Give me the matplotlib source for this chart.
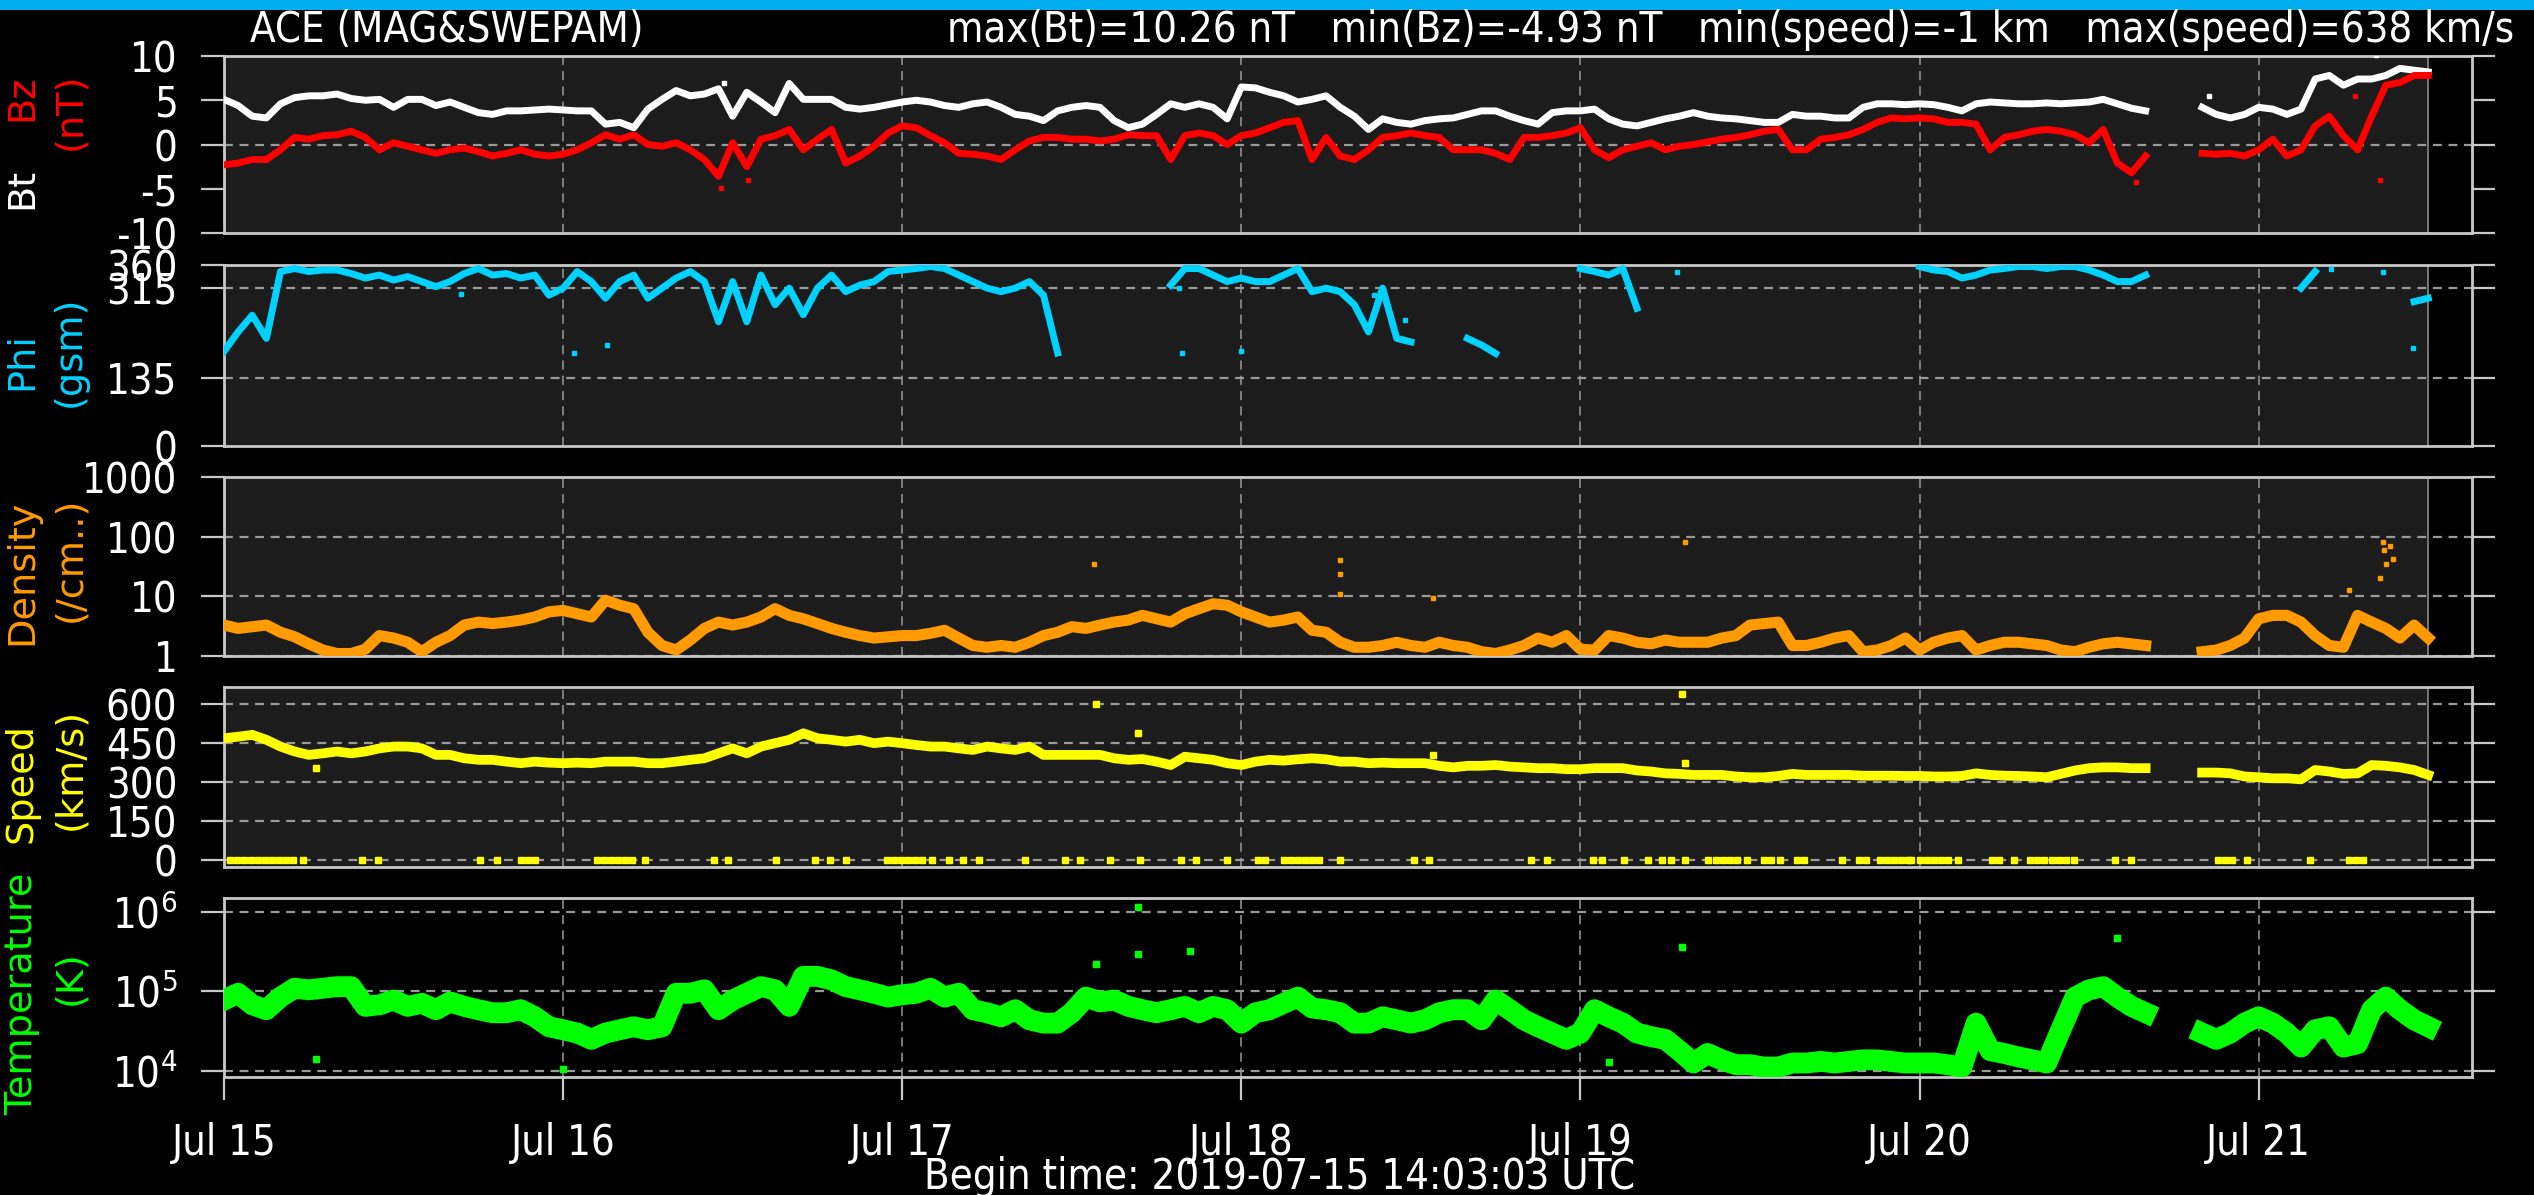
import numpy as np
import matplotlib
matplotlib.use("Agg")
import matplotlib.pyplot as plt
from matplotlib.patches import Rectangle

nan = np.nan

# ---------------- data (hourly readings, hour 0 = Jul 15 00:00) ----------------
bt = [5.1,4.4,3.2,3.0,4.6,5.3,5.5,5.5,5.7,5.2,
      5.0,5.1,4.2,5.1,5.1,4.4,4.8,4.2,3.6,3.4,
      3.8,3.8,3.9,4.0,3.9,3.8,3.8,2.3,2.5,1.9,
      4.0,5.1,6.1,5.5,5.7,6.3,3.2,5.9,4.8,3.6,
      6.9,5.1,5.1,5.1,4.2,4.0,4.2,4.5,4.8,5.0,
      4.8,4.4,4.2,4.6,4.8,4.2,3.4,3.2,2.7,3.8,
      4.2,4.4,4.2,2.7,1.9,2.3,3.4,4.6,4.2,4.6,
      4.2,2.9,6.5,6.4,5.9,5.5,4.8,5.1,5.5,4.2,
      3.2,1.7,2.9,2.5,2.3,2.7,2.9,3.0,3.4,3.8,
      3.8,3.2,2.7,2.3,3.6,3.8,3.8,4.0,2.9,2.3,
      2.1,2.5,2.9,3.2,3.6,3.2,3.0,2.9,2.7,2.5,
      2.5,3.4,3.2,3.2,3.0,3.0,4.2,4.6,4.6,4.5,
      4.6,4.5,4.2,3.8,4.6,4.8,4.7,4.6,4.6,4.7,
      4.6,4.7,4.8,5.1,4.6,4.1,3.8,nan,nan,nan,
      4.2,3.4,3.0,3.4,4.2,4.0,3.4,4.0,7.4,7.8,
      6.7,7.4,7.4,7.8,8.6,8.4,8.2]

bz = [-2.3,-2.1,-1.7,-1.7,-0.6,0.8,0.6,1.0,1.1,1.5,
      0.8,-0.6,0.2,-0.2,-0.6,-1.0,-0.6,-0.4,-0.8,-1.3,
      -1.0,-0.6,-1.1,-1.3,-1.1,-0.6,0.2,1.1,0.6,1.1,
      0.0,-0.2,0.2,-0.6,-1.7,-3.6,0.2,-2.5,0.6,1.0,
      1.7,-0.6,0.6,1.7,-2.1,-1.3,-0.2,1.3,2.1,1.9,
      1.0,0.2,-1.0,-1.1,-1.3,-1.7,-0.6,0.4,0.8,0.8,
      0.6,0.6,0.4,0.6,1.1,1.0,1.0,-1.7,1.0,1.3,
      1.0,0.0,1.0,1.3,1.9,2.5,2.7,-1.7,0.8,-1.3,
      -1.7,-0.6,0.8,1.0,1.3,1.0,0.8,-0.6,-0.6,-0.6,
      -1.0,-1.7,0.8,0.8,1.0,1.3,1.9,-0.6,-1.5,-0.6,
      -0.2,0.2,-0.6,-0.2,0.0,0.3,0.6,0.8,1.1,1.5,
      1.7,-0.6,-0.6,0.6,0.8,1.1,1.7,2.5,3.0,2.9,
      3.0,2.9,2.5,2.5,2.3,-0.6,0.8,1.1,1.5,1.7,
      1.5,1.1,0.2,1.7,-2.1,-3.2,-1.3,nan,nan,nan,
      -1.0,-1.1,-1.0,-1.3,-0.6,0.6,-1.3,-0.6,2.1,3.2,
      1.0,-0.6,3.2,6.7,7.0,7.8,7.8]

phi = [188,227,260,214,347,353,347,350,350,343,
       334,340,330,337,327,317,327,343,353,340,
       343,334,340,300,314,347,327,294,327,340,
       294,314,334,347,327,247,327,247,340,281,
       314,261,314,340,307,320,327,347,350,353,
       357,353,340,327,314,307,314,327,300,185,
       nan,nan,nan,nan,nan,nan,nan,320,353,353,
       340,327,334,327,327,340,353,307,314,307,
       281,227,314,214,207,nan,nan,nan,214,201,
       184,nan,nan,nan,nan,nan,353,347,340,353,
       274,nan,nan,nan,nan,nan,nan,nan,nan,nan,
       320,nan,nan,nan,nan,nan,nan,nan,nan,nan,
       357,350,347,334,340,350,353,357,357,353,
       357,357,350,340,327,327,340,nan,nan,nan,
       nan,nan,nan,nan,nan,nan,nan,314,347,nan,
       nan,nan,nan,nan,nan,287,294]

density = [3.3,2.9,3.1,3.3,2.5,2.1,1.6,1.26,1.1,1.1,
           1.3,2.2,2.0,1.7,1.18,1.7,2.2,3.3,3.7,3.5,
           3.7,4.0,4.5,5.5,5.8,5.1,4.5,8.6,7.1,6.2,
           2.5,1.5,1.26,1.85,2.9,3.7,3.3,3.7,4.5,6.2,
           4.8,4.2,3.5,2.9,2.5,2.2,2.0,2.1,2.2,2.2,
           2.4,2.7,2.0,1.5,1.4,1.5,1.4,1.7,2.2,2.5,
           3.1,2.9,3.3,3.7,4.0,4.8,4.2,3.7,5.1,6.2,
           7.5,7.1,5.5,4.5,3.7,4.0,4.5,2.7,2.5,1.7,
           1.4,1.4,1.5,1.7,1.5,1.4,1.7,1.5,1.4,1.18,
           1.1,1.26,1.5,2.0,1.7,2.2,1.3,1.26,2.2,2.0,
           1.7,1.6,1.85,1.7,1.7,1.7,2.0,2.2,3.3,3.5,
           3.7,1.5,1.5,1.7,2.0,2.2,1.18,1.26,1.5,2.0,
           1.26,1.7,2.0,2.2,1.26,1.5,1.7,1.7,1.6,1.5,
           1.26,1.18,1.4,1.6,1.7,1.6,1.5,nan,nan,nan,
           1.18,1.26,1.5,2.0,4.2,4.8,4.8,3.7,2.2,1.5,
           1.4,4.8,3.7,2.9,2.0,3.3,2.0]

speed = [468,474,481,462,436,417,404,410,417,410,
         417,429,436,436,429,404,404,391,385,385,
         378,372,378,374,372,374,372,378,378,378,
         372,372,378,385,391,410,429,410,436,449,
         462,487,468,462,455,462,449,455,449,442,
         436,436,429,423,436,429,423,436,404,404,
         404,404,404,391,385,388,378,365,397,391,
         385,372,365,378,385,382,387,391,387,378,
         378,372,374,372,372,372,362,356,362,362,
         365,359,356,353,353,349,349,353,353,353,
         344,340,333,331,327,327,327,321,318,318,
         323,331,327,327,327,327,324,324,324,323,
         323,321,321,323,333,327,324,323,321,318,
         331,344,353,356,356,353,353,nan,nan,nan,
         336,336,333,321,318,314,314,310,346,340,
         331,333,365,362,356,346,327]

temperature = [78e3,95e3,68e3,59e3,85e3,110e3,105e3,110e3,115e3,115e3,
               65e3,68e3,78e3,65e3,71e3,59e3,74e3,65e3,59e3,54e3,
               54e3,59e3,48e3,36e3,33e3,30e3,25e3,30e3,33e3,36e3,
               33e3,36e3,95e3,95e3,105e3,59e3,78e3,95e3,115e3,105e3,
               65e3,155e3,155e3,140e3,115e3,105e3,95e3,85e3,91e3,95e3,
               110e3,85e3,95e3,59e3,54e3,48e3,59e3,44e3,40e3,40e3,
               54e3,85e3,74e3,78e3,65e3,59e3,54e3,59e3,65e3,54e3,
               65e3,59e3,40e3,54e3,59e3,71e3,85e3,62e3,59e3,54e3,
               40e3,40e3,48e3,44e3,40e3,44e3,54e3,59e3,59e3,44e3,
               78e3,59e3,44e3,36e3,30e3,25e3,30e3,59e3,48e3,40e3,
               30e3,27e3,25e3,18e3,12.6e3,16.6e3,13.8e3,12e3,12e3,11.2e3,
               11.2e3,12.6e3,12.6e3,13.2e3,12.6e3,13.2e3,13.8e3,13.8e3,13.2e3,12.6e3,
               12.6e3,12.6e3,12e3,11.2e3,40e3,18e3,16.6e3,15e3,13.8e3,12.6e3,
               33e3,85e3,105e3,115e3,85e3,65e3,54e3,nan,nan,nan,
               30e3,25e3,30e3,40e3,48e3,40e3,30e3,20e3,33e3,36e3,
               20e3,22e3,59e3,85e3,59e3,44e3,36e3]

# isolated points
bt_dot_t = [152.3, 140.5, 35.4]
bt_dot_v = [10.1, 5.5, 7.0]
bz_dot_t = [35.2, 37.1, 135.3, 152.6, 150.8]
bz_dot_v = [-4.9, -4.0, -4.2, -4.0, 5.5]
phi_dot_t = [16.8, 24.8, 27.1, 67.6, 67.8, 72.0, 102.8, 149.1, 152.8, 154.9, 81.4, 83.6]
phi_dot_v = [302, 184, 201, 314, 184, 188, 347, 353, 347, 195, 300, 250]
dens_dot_t = [61.6, 79.0, 79.0, 79.0, 85.6, 103.4, 152.8, 152.9, 153.0, 153.3, 153.5, 150.4, 152.6]
dens_dot_v = [35, 40, 24, 11, 9.4, 82, 80, 60, 35, 70, 42, 13, 20]
speed_dot_t = [6.5, 61.7, 64.7, 85.6, 103.2, 103.4]
speed_dot_v = [353, 600, 487, 404, 638, 372]
speed_zero_t = [0.4,0.9,1.4,1.9,2.4,2.9,3.4,3.9,4.4,4.9,5.6,9.8,10.9,18.1,19.3,21.0,21.5,22.0,
                26.4,26.9,27.4,27.9,28.4,28.9,29.8,34.7,35.7,39.1,41.8,42.9,44.0,46.9,47.4,47.9,
                48.4,48.9,49.4,50.1,51.3,52.3,53.4,56.7,59.5,60.6,62.7,64.8,67.7,68.8,71.0,73.2,
                73.7,75.0,75.5,76.0,76.5,77.0,77.5,79.0,84.2,85.3,92.5,93.6,96.9,97.5,99.1,100.8,
                101.8,102.4,103.4,105.0,105.6,106.1,106.6,107.1,107.8,109.0,109.5,110.1,111.3,
                111.8,114.5,115.7,116.2,117.2,117.7,118.2,118.7,119.2,119.4,120.0,120.5,121.0,
                121.5,122.0,122.7,125.1,125.6,126.7,127.8,128.3,128.8,129.4,129.9,130.4,130.9,
                133.8,135.0,141.1,141.6,142.1,143.2,147.6,150.4,150.9,151.4]
temp_dot_t = [64.7, 64.7, 68.4, 61.7, 103.2, 134.0, 6.5, 24.0, 98.0]
temp_dot_v = [1.17e6, 3.0e5, 3.2e5, 2.2e5, 3.6e5, 4.7e5, 1.4e4, 1.05e4, 1.3e4]

day_labels = ["Jul 15", "Jul 16", "Jul 17", "Jul 18", "Jul 19", "Jul 20", "Jul 21"]
stats_text = "max(Bt)=10.26 nT   min(Bz)=-4.93 nT   min(speed)=-1 km   max(speed)=638 km/s"
title_text = "ACE (MAG&SWEPAM)"
begin_text = "Begin time: 2019-07-15 14:03:03 UTC"

# ---------------- style ----------------
plt.rcParams['font.family'] = ['DejaVu Sans']
plt.rcParams['font.stretch'] = 'condensed'
plt.rcParams['axes.unicode_minus'] = False

W, H = 2534, 1195
fig = plt.figure(figsize=(W / 100, H / 100), dpi=100, facecolor='black')

hours = np.arange(len(bt))
data_end = hours[-1]
XMAX = 159.1
FRAME = '#c8c8c8'
GRIDC = '#9a9a9a'
BG = '#1c1c1c'
FS_TXT = 30
FS_TICK = 30
FS_LAB = 27.5

C_BT, C_BZ = 'white', '#ff0000'
C_PHI = '#00d2ff'
C_DEN = '#ff9a00'
C_SPD = '#ffff00'
C_TMP = '#00ff00'

left, right = 224 / W, 2472 / W


def make_ax(top_px, bot_px):
    ax = fig.add_axes([left, 1 - bot_px / H, right - left, (bot_px - top_px) / H])
    ax.set_facecolor('black')
    ax.set_xlim(0, XMAX)
    for s in ax.spines.values():
        s.set_color(FRAME)
        s.set_linewidth(2)
    ax.tick_params(axis='y', which='both', direction='out', length=16.5, width=1.6,
                   color=FRAME, labelcolor='white', labelsize=FS_TICK, pad=17,
                   left=True, right=True, labelright=False)
    ax.tick_params(axis='x', which='both', bottom=False, top=False, labelbottom=False)
    ax.minorticks_off()
    return ax


def decorate(ax, hlines, gray=True):
    if gray:
        ax.add_patch(Rectangle((0, 0), data_end, 1, transform=ax.get_xaxis_transform(),
                               facecolor=BG, edgecolor='none', zorder=0))
        ax.axvline(data_end, color='#8a8a8a', lw=1.2, zorder=1)
    for d in range(1, 7):
        ax.axvline(24 * d, color=GRIDC, lw=1.1, ls=(0, (6, 4)), zorder=1)
    for v in hlines:
        ax.axhline(v, color=GRIDC, lw=1.6, ls=(0, (4, 3)), zorder=1)


# Panel 1: Bt / Bz
ax1 = make_ax(56, 233)
ax1.set_ylim(-10, 10)
ax1.set_yticks([10, 5, 0, -5, -10])
ax1.set_yticklabels(['10', '5', '0', '-5', '-10'])
decorate(ax1, [0])
ax1.plot(hours, bt, color=C_BT, lw=5, zorder=3)
ax1.plot(hours, bz, color=C_BZ, lw=5, zorder=4)
ax1.plot(bt_dot_t, bt_dot_v, 's', color=C_BT, ms=3.5, zorder=3)
ax1.plot(bz_dot_t, bz_dot_v, 's', color=C_BZ, ms=3.5, zorder=4)

# Panel 2: Phi
ax2 = make_ax(265, 446)
ax2.set_ylim(0, 360)
ax2.set_yticks([0, 135, 315, 360])
ax2.set_yticklabels(['0', '135', '315', '360'])
decorate(ax2, [135, 315])
ax2.plot(hours, phi, color=C_PHI, lw=5, zorder=3)
ax2.plot(phi_dot_t, phi_dot_v, 's', color=C_PHI, ms=3.5, zorder=3)

# Panel 3: Density
ax3 = make_ax(477, 656)
ax3.set_yscale('log')
ax3.set_ylim(1, 1000)
ax3.set_yticks([1, 10, 100, 1000])
ax3.set_yticklabels(['1', '10', '100', '1000'])
ax3.minorticks_off()
decorate(ax3, [1, 10, 100])
ax3.plot(hours, density, color=C_DEN, lw=8, zorder=3)
ax3.plot(dens_dot_t, dens_dot_v, 's', color=C_DEN, ms=3.5, zorder=3)

# Panel 4: Speed
ax4 = make_ax(687, 867)
ax4.set_ylim(-27, 665)
ax4.set_yticks([0, 150, 300, 450, 600])
ax4.set_yticklabels(['0', '150', '300', '450', '600'])
decorate(ax4, [0, 150, 300, 450, 600])
ax4.plot(hours, speed, color=C_SPD, lw=7, zorder=3)
ax4.plot(speed_dot_t, speed_dot_v, 's', color=C_SPD, ms=4, zorder=3)
ax4.plot(speed_zero_t, [0] * len(speed_zero_t), 's', color=C_SPD, ms=4.5, zorder=3)

# Panel 5: Temperature
ax5 = make_ax(898, 1077)
ax5.set_yscale('log')
ax5.set_ylim(8.4e3, 1.5e6)
ax5.set_yticks([1e4, 1e5, 1e6])
ax5.set_yticklabels([r'$10^4$', r'$10^5$', r'$10^6$'])
ax5.minorticks_off()
decorate(ax5, [1e4, 1e5, 1e6], gray=False)
ax5.plot(hours, temperature, color=C_TMP, lw=15, zorder=3)
ax5.plot(temp_dot_t, temp_dot_v, 's', color=C_TMP, ms=4, zorder=3)
ax5.set_xticks([24 * i for i in range(len(day_labels))])
ax5.set_xticklabels(day_labels)
ax5.tick_params(axis='x', bottom=True, labelbottom=True, direction='out', length=16.5,
                width=1.6, color=FRAME, labelcolor='white', labelsize=FS_TICK, pad=16)

# ---------------- labels / texts ----------------
def ylab(x_px, y_px, s, c):
    fig.text(x_px / W, 1 - y_px / H, s, color=c, rotation=90, ha='center', va='center',
             fontsize=FS_LAB, fontstretch='normal')

ylab(22, 188, 'Bt', C_BT)
ylab(22, 98, 'Bz', C_BZ)
ylab(70, 111, '(nT)', C_BZ)
ylab(22, 361, 'Phi', C_PHI)
ylab(70, 351, '(gsm)', C_PHI)
ylab(22, 572, 'Density', C_DEN)
ylab(70, 559, '(/cm..)', C_DEN)
ylab(22, 783, 'Speed', C_SPD)
ylab(70, 769, '(km/s)', C_SPD)
ylab(22, 994, 'Temperature', C_TMP)
ylab(70, 978, '(K)', C_TMP)

fig.text(250 / W, 1 - 30 / H, title_text, color='white', fontsize=FS_TXT, ha='left', va='center')
fig.text(2514 / W, 1 - 30 / H, stats_text, color='white', fontsize=FS_TXT, ha='right', va='center')
fig.text(0.505, 1 - 1177 / H, begin_text, color='white', fontsize=FS_TXT, ha='center', va='center')

# top blue bar
fig.patches.append(Rectangle((0, 1 - 10 / H), 1, 10 / H, transform=fig.transFigure,
                             facecolor='#00aeef', edgecolor='none'))

fig.savefig('out.png', dpi=100, facecolor='black')
